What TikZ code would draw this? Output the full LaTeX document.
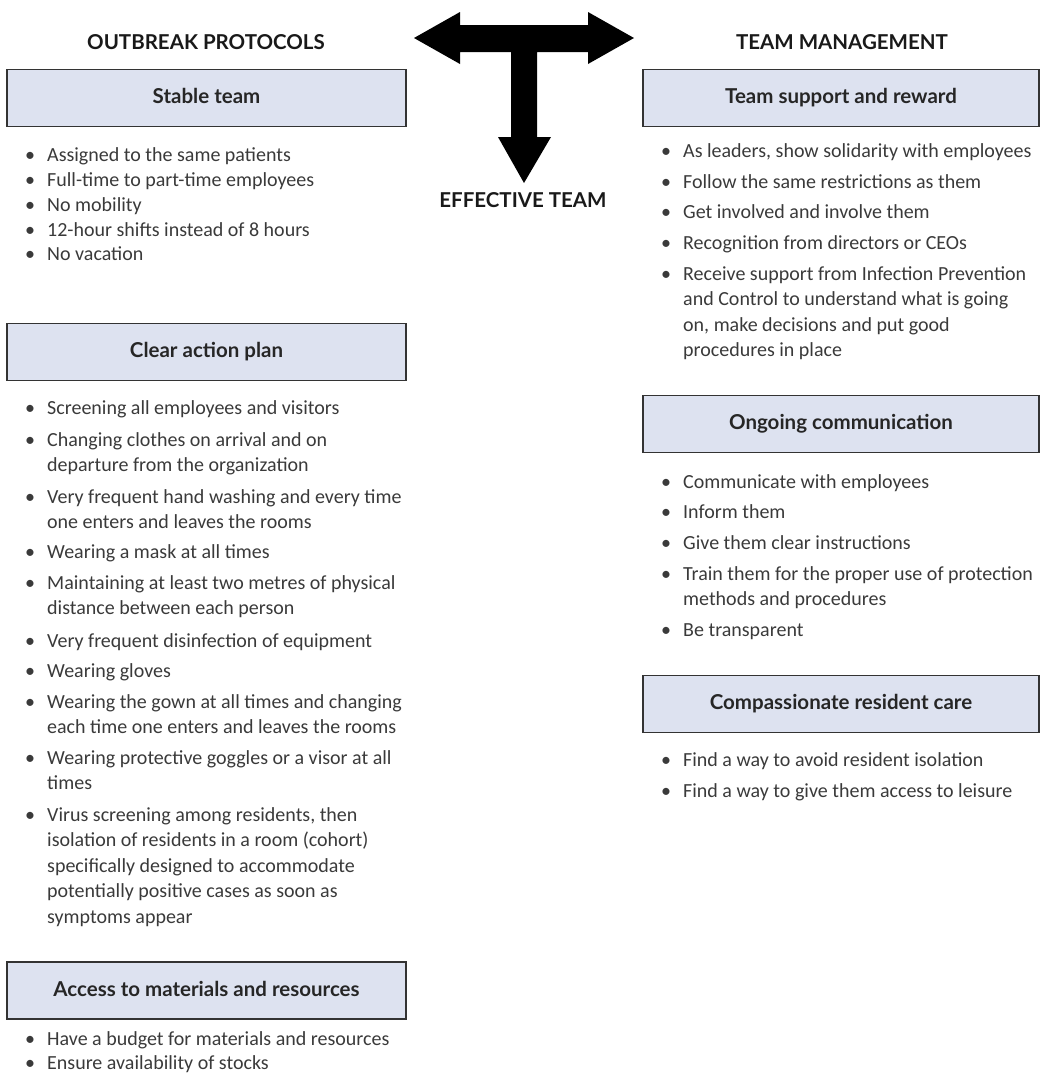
\documentclass[tikz,border=0pt]{standalone}
\usepackage{fontspec}
\setmainfont{Carlito}
\newfontfamily\headfont{Lato}
\definecolor{boxfill}{HTML}{DDE2F0}
\definecolor{txtgray}{HTML}{3A3A3A}
\newcommand\itm[1]{\makebox[22pt][l]{\textbullet}\parbox[t]{480pt}{\raggedright #1}}

\begin{document}
\begin{tikzpicture}[x=1pt, y=-1pt,
  head/.style={font=\headfont\bfseries\fontsize{20.5}{24}\selectfont, text=black!90},
  catbox/.style={draw=black!80, line width=1.4pt, fill=boxfill, minimum height=57pt, text height=14pt, text depth=3pt, font=\headfont\bfseries\fontsize{20.5}{23}\selectfont, text=black!85},
  lbox/.style={catbox, minimum width=399pt},
  rbox/.style={catbox, minimum width=396pt},
  item/.style={anchor=base west, inner sep=0pt, text=txtgray, font=\fontsize{20}{25.5}\selectfont}]
  \useasboundingbox (0,0) rectangle (1043,1088);

  \fill (414,38) -- (460,12) -- (460,25) -- (588,25) -- (588,12) -- (634,38)
    -- (588,64) -- (588,52) -- (537,52) -- (537,137) -- (551,137) -- (524,183)
    -- (498,137) -- (511,137) -- (511,52) -- (460,52) -- (460,64) -- cycle;

  \node[head] (protocols) at (206,42) {OUTBREAK PROTOCOLS};
  \node[head] (management) at (842,42) {TEAM MANAGEMENT};
  \node[head] (effective) at (523,200) {EFFECTIVE TEAM};

  \node[lbox] (stable) at (206.5,98) {Stable team};
  \node[item] (s1) at (25,161) {\itm{Assigned to the same patients}};
  \node[item] (s2) at (25,186) {\itm{Full-time to part-time employees}};
  \node[item] (s3) at (25,211) {\itm{No mobility}};
  \node[item] (s4) at (25,236) {\itm{12-hour shifts instead of 8 hours}};
  \node[item] (s5) at (25,260) {\itm{No vacation}};

  \node[lbox] (clearplan) at (206.5,352) {Clear action plan};
  \node[item] (c1) at (25,414) {\itm{Screening all employees and visitors}};
  \node[item] (c2) at (25,446) {\itm{Changing clothes on arrival and on\\departure from the organization}};
  \node[item] (c3) at (25,503) {\itm{Very frequent hand washing and every time\\one enters and leaves the rooms}};
  \node[item] (c4) at (25,558) {\itm{Wearing a mask at all times}};
  \node[item] (c5) at (25,589) {\itm{Maintaining at least two metres of physical\\distance between each person}};
  \node[item] (c6) at (25,647) {\itm{Very frequent disinfection of equipment}};
  \node[item] (c7) at (25,677) {\itm{Wearing gloves}};
  \node[item] (c8) at (25,708) {\itm{Wearing the gown at all times and changing\\each time one enters and leaves the rooms}};
  \node[item] (c9) at (25,764) {\itm{Wearing protective goggles or a visor at all\\times}};
  \node[item] (c10) at (25,821) {\itm{Virus screening among residents, then\\isolation of residents in a room (cohort)\\specifically designed to accommodate\\potentially positive cases as soon as\\symptoms appear}};

  \node[lbox] (access) at (206.5,990.5) {Access to materials and resources};
  \node[item] (a1) at (25,1045) {\itm{Have a budget for materials and resources}};
  \node[item] (a2) at (25,1069) {\itm{Ensure availability of stocks}};

  \node[rbox] (support) at (841,98) {Team support and reward};
  \node[item] (t1) at (661,157) {\itm{As leaders, show solidarity with employees}};
  \node[item] (t2) at (661,188) {\itm{Follow the same restrictions as them}};
  \node[item] (t3) at (661,218) {\itm{Get involved and involve them}};
  \node[item] (t4) at (661,249) {\itm{Recognition from directors or CEOs}};
  \node[item] (t5) at (661,280) {\itm{Receive support from Infection Prevention\\and Control to understand what is going\\on, make decisions and put good\\procedures in place}};

  \node[rbox] (comm) at (841,424) {Ongoing communication};
  \node[item] (o1) at (661,488) {\itm{Communicate with employees}};
  \node[item] (o2) at (661,518) {\itm{Inform them}};
  \node[item] (o3) at (661,549) {\itm{Give them clear instructions}};
  \node[item] (o4) at (661,580) {\itm{Train them for the proper use of protection\\methods and procedures}};
  \node[item] (o5) at (661,636) {\itm{Be transparent}};

  \node[rbox] (care) at (841,704) {Compassionate resident care};
  \node[item] (r1) at (661,766) {\itm{Find a way to avoid resident isolation}};
  \node[item] (r2) at (661,797) {\itm{Find a way to give them access to leisure}};
\end{tikzpicture}
\end{document}
